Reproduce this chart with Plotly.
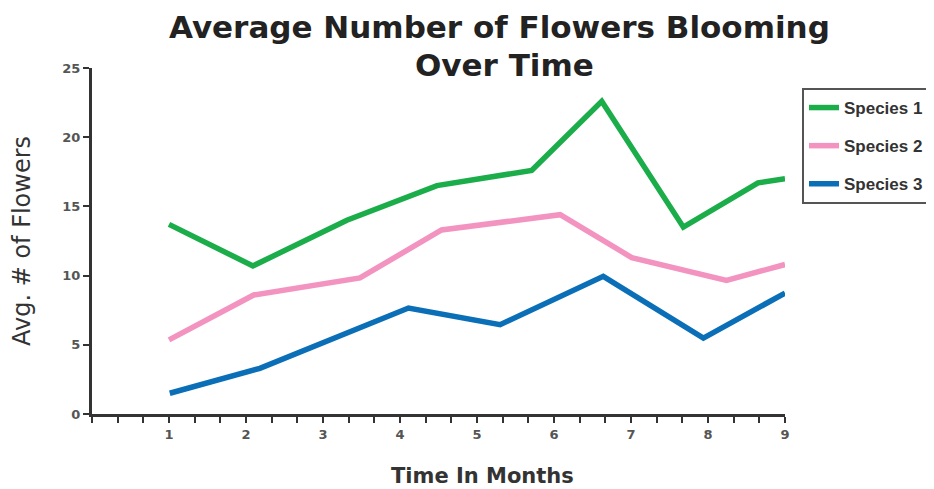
import plotly.graph_objects as go

# ---- data ----
species_names = ["Species 1", "Species 2", "Species 3"]

s1_months = [1.0, 2.09, 3.31, 4.48, 5.71, 6.62, 7.68, 8.65, 9.0]
s1_flowers = [13.7, 10.7, 14.0, 16.5, 17.6, 22.6, 13.5, 16.7, 17.0]

s2_months = [1.0, 2.1, 3.48, 4.54, 6.08, 7.01, 8.24, 9.0]
s2_flowers = [5.36, 8.6, 9.83, 13.3, 14.4, 11.3, 9.66, 10.8]

s3_months = [1.01, 2.18, 4.11, 5.30, 6.64, 7.94, 9.0]
s3_flowers = [1.5, 3.3, 7.66, 6.45, 9.95, 5.48, 8.74]

month_ticks = [1, 2, 3, 4, 5, 6, 7, 8, 9]
month_labels = ["1", "2", "3", "4", "5", "6", "7", "8", "9"]
flower_ticks = [0, 5, 10, 15, 20, 25]
flower_labels = ["0", "5", "10", "15", "20", "25"]

colors = ["#1bad4a", "#f393c0", "#0b6fb8"]

series = [(s1_months, s1_flowers), (s2_months, s2_flowers), (s3_months, s3_flowers)]

FONT = "Liberation Sans, Arial, sans-serif"
WIDE = "DejaVu Sans, Verdana, sans-serif"

fig = go.Figure()
for name, (xs, ys), col in zip(species_names, series, colors):
    fig.add_trace(go.Scatter(
        x=xs, y=ys, mode="lines", name=name, legendgroup=name,
        line=dict(color=col, width=5.5),
        cliponaxis=False,
    ))

axis_col = "#333333"
tick_font = dict(family=WIDE, size=13, color="#555555", weight="bold")

# the page body has an 8px margin, so the figure is drawn 8px smaller
fig.update_layout(
    width=926, height=481,
    margin=dict(l=84, r=149, t=60, b=75, autoexpand=False),
    paper_bgcolor="white", plot_bgcolor="white",
    showlegend=True,
    legend=dict(
        x=1.0245, xanchor="left", y=(414 - 88) / 346, yanchor="top",
        bordercolor="#555555", borderwidth=2, bgcolor="white",
        font=dict(family=FONT, size=17, color="#333333", weight="bold"),
        traceorder="grouped", tracegroupgap=13,
        entrywidth=110, entrywidthmode="pixels",
    ),
    xaxis=dict(
        range=[0, 9], showgrid=False, zeroline=False, automargin=False,
        showline=True, linecolor=axis_col, linewidth=3,
        tickmode="array", tickvals=month_ticks, ticktext=month_labels,
        ticks="outside", ticklen=6, tickwidth=2, tickcolor=axis_col,
        tickfont=tick_font,
        minor=dict(tick0=0, dtick=1/3, ticks="outside", ticklen=6, tickwidth=2, tickcolor=axis_col, showgrid=False),
    ),
    yaxis=dict(
        range=[0, 25], showgrid=False, zeroline=False, automargin=False,
        showline=True, linecolor=axis_col, linewidth=3,
        tickmode="array", tickvals=flower_ticks, ticktext=flower_labels,
        ticks="outside", ticklen=6, tickwidth=2, tickcolor=axis_col,
        tickfont=tick_font,
        title=dict(text="Avg. # of Flowers", standoff=29,
                   font=dict(family=WIDE, size=24, color="#333333")),
    ),
    annotations=[
        dict(text="Average Number of Flowers Blooming", xref="paper", yref="paper",
             x=(499 - 92) / 693, y=(414 - 8) / 346, xanchor="center", yanchor="top",
             showarrow=False, borderpad=0,
             font=dict(family=WIDE, size=31, color="#222222", weight="bold")),
        dict(text="Over Time", xref="paper", yref="paper",
             x=(505 - 92) / 693, y=(414 - 64.6) / 346, xanchor="center", yanchor="middle",
             showarrow=False, borderpad=0,
             font=dict(family=WIDE, size=31, color="#222222", weight="bold")),
        # x-axis title (sits right of the plot centre in the reference)
        dict(text="Time In Months", xref="paper", yref="paper",
             x=(482 - 92) / 693, y=(414 - 476) / 346, xanchor="center", yanchor="middle",
             showarrow=False, borderpad=0,
             font=dict(family=WIDE, size=21, color="#333333", weight="bold")),
    ],
)

fig.write_html("out.html")
